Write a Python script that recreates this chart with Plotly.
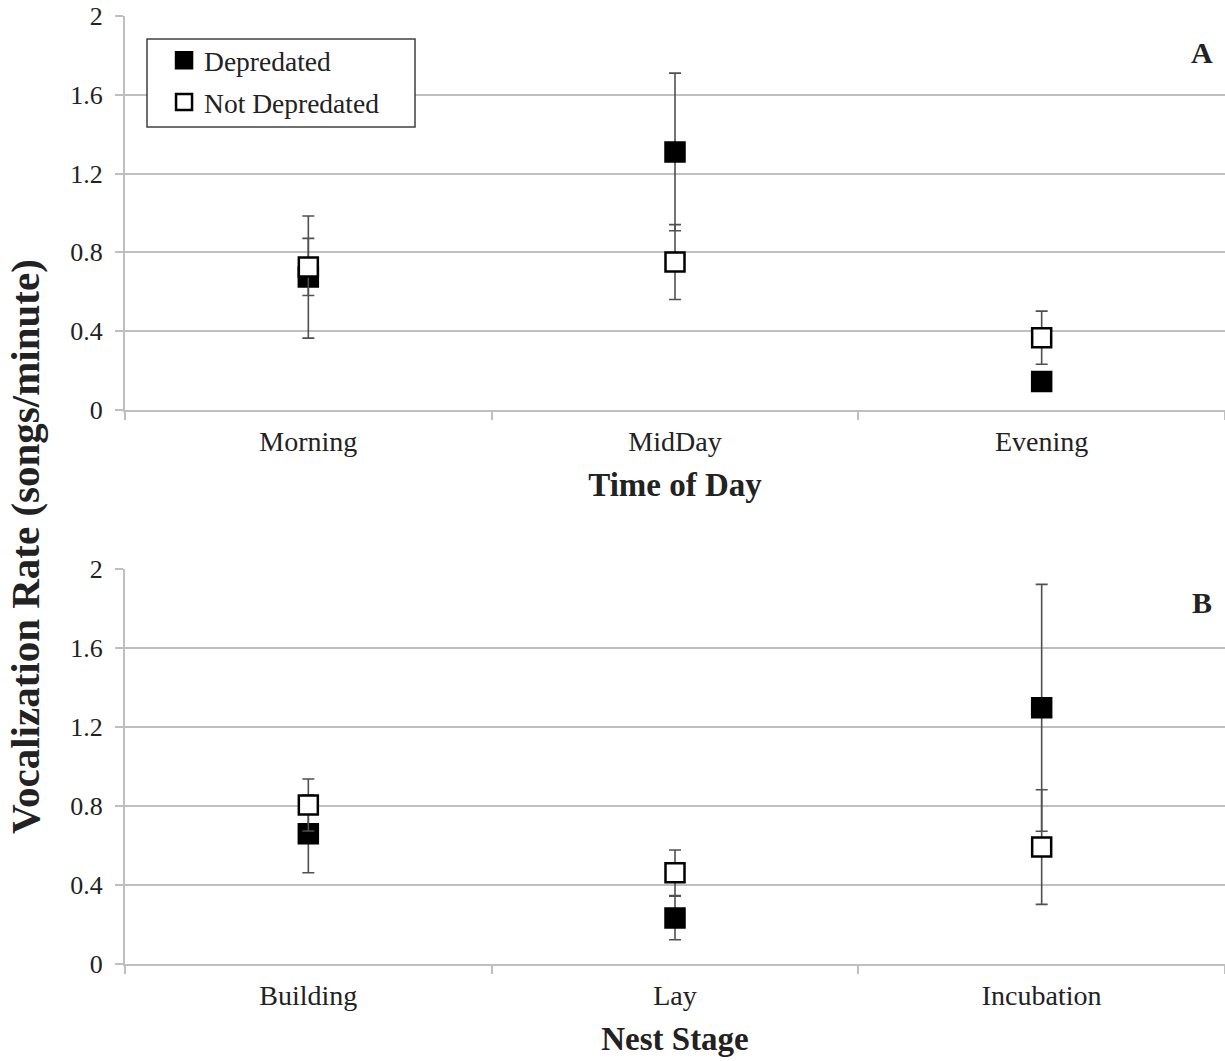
import plotly.graph_objects as go

# ---- data ----
time_categories = ["Morning", "MidDay", "Evening"]
time_dep = [0.675, 1.31, 0.144]
time_dep_err = [0.31, 0.40, 0.0]
time_notdep = [0.726, 0.751, 0.367]
time_notdep_err = [0.145, 0.19, 0.135]

stage_categories = ["Building", "Lay", "Incubation"]
stage_dep = [0.659, 0.233, 1.297]
stage_dep_err = [0.197, 0.11, 0.625]
stage_notdep = [0.805, 0.462, 0.592]
stage_notdep_err = [0.132, 0.115, 0.29]

y_ticks = [0, 0.4, 0.8, 1.2, 1.6, 2]
y_ticklabels = ["0", "0.4", "0.8", "1.2", "1.6", "2"]

FONT = "Times New Roman, Liberation Serif, serif"
TXT = "#222222"
GRID = "#bfbfbf"
ERRC = "#505050"

fig = go.Figure()


def add_series(xcats, vals, errs, name, fill, xa, ya, show, group):
    fig.add_trace(go.Scatter(
        x=xcats, y=vals, mode="markers", name=name, showlegend=show,
        legendgroup=group, xaxis=xa, yaxis=ya,
        marker=dict(symbol="square", size=19, color=fill,
                    line=dict(color="black", width=2.5)),
        error_y=dict(type="data", array=errs, visible=True,
                     color=ERRC, thickness=1.6, width=6),
    ))


add_series(time_categories, time_dep, time_dep_err, "Depredated", "black", "x", "y", True, "d")
add_series(time_categories, time_notdep, time_notdep_err, "Not Depredated", "white", "x", "y", True, "n")
add_series(stage_categories, stage_dep, stage_dep_err, "Depredated", "black", "x2", "y2", False, "d")
add_series(stage_categories, stage_notdep, stage_notdep_err, "Not Depredated", "white", "x2", "y2", False, "n")

xcommon = dict(
    type="category", range=[-0.5, 2.5], showgrid=False, showline=True,
    linecolor=GRID, linewidth=2, ticks="outside", tickson="boundaries",
    ticklen=8, tickcolor=GRID, tickwidth=1.5, ticklabelstandoff=5,
    tickfont=dict(family=FONT, size=28, color=TXT),
    title_font=dict(family=FONT, size=33, color=TXT),
    zeroline=False, fixedrange=True,
)
ycommon = dict(
    range=[0, 2], tickvals=y_ticks, ticktext=y_ticklabels,
    showgrid=True, gridcolor=GRID, gridwidth=2,
    showline=True, linecolor=GRID, linewidth=2,
    ticks="outside", ticklen=8, tickcolor=GRID, tickwidth=1.5,
    ticklabelstandoff=7,
    tickfont=dict(family=FONT, size=26, color=TXT),
    zeroline=False, fixedrange=True,
)

fig.update_layout(
    width=1225, height=1061,
    margin=dict(l=125, r=0, t=16, b=97),
    paper_bgcolor="white", plot_bgcolor="white",
    xaxis=dict(**xcommon, domain=[0, 1], anchor="y",
               title=dict(text="<b>Time of Day</b>", standoff=17)),
    yaxis=dict(**ycommon, domain=[0.5844, 1], anchor="x"),
    xaxis2=dict(**xcommon, domain=[0, 1], anchor="y2",
                title=dict(text="<b>Nest Stage</b>", standoff=17)),
    yaxis2=dict(**ycommon, domain=[0, 0.4167], anchor="x2"),
    legend=dict(
        x=0.0355, y=0.979, xanchor="left", yanchor="top",
        borderwidth=0, bgcolor="rgba(0,0,0,0)",
        font=dict(family=FONT, size=27.5, color=TXT),
        itemwidth=30, tracegroupgap=3,
    ),
    showlegend=True,
    shapes=[
        dict(type="rect", xref="paper", yref="paper",
             x0=(147 - 125) / 1100, x1=(415 - 125) / 1100,
             y0=1 - (127 - 16) / 948, y1=1 - (39 - 16) / 948,
             line=dict(color="#404040", width=1.5), fillcolor="white",
             layer="above"),
    ],
    annotations=[
        dict(text="<b>Vocalization Rate (songs/minute)</b>", textangle=-90,
             xref="paper", yref="paper", x=-100 / 1100, y=0.44,
             xanchor="center", yanchor="middle", showarrow=False,
             font=dict(family=FONT, size=41, color=TXT)),
        dict(text="<b>A</b>", xref="paper", yref="paper", x=0.979, y=0.961,
             xanchor="center", yanchor="middle", showarrow=False,
             font=dict(family=FONT, size=30, color=TXT)),
        dict(text="<b>B</b>", xref="paper", yref="paper", x=0.979, y=0.381,
             xanchor="center", yanchor="middle", showarrow=False,
             font=dict(family=FONT, size=30, color=TXT)),
    ],
)

fig.write_html("out.html")
